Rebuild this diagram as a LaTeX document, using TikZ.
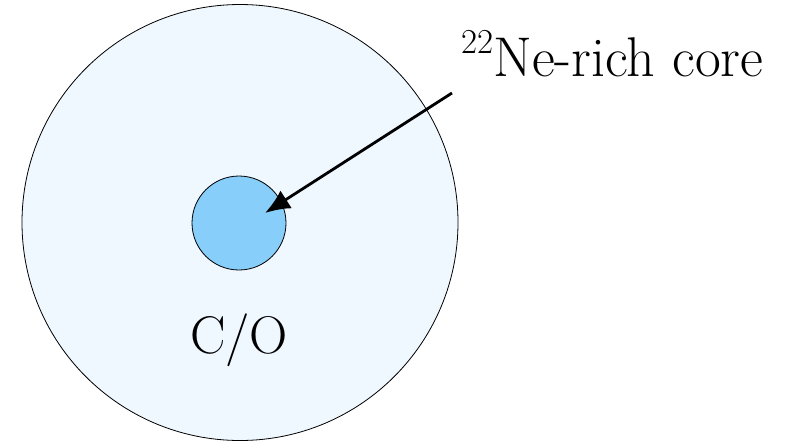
\documentclass[tikz,border=0pt]{standalone}
\usetikzlibrary{arrows.meta}
\definecolor{outerfill}{RGB}{239,247,255}
\definecolor{innerfill}{RGB}{135,206,250}
\tikzset{
  shell/.style={circle, draw=black, line width=0.8pt, inner sep=0pt},
  lbl/.style={inner sep=0pt, font=\fontsize{53}{60}\selectfont},
  biglbl/.style={inner sep=0pt, font=\fontsize{56}{62}\selectfont},
  pointer/.style={line width=2.8pt, -{Latex[length=25pt,width=21pt]}}
}
\newcommand{\isotop}[1]{\raisebox{23pt}{\fontsize{35}{40}\selectfont #1}}
\begin{document}
\begin{tikzpicture}[x=1pt,y=-1pt]
\useasboundingbox (0,0) rectangle (800,442);
\node[shell, fill=outerfill, minimum size=436pt] (outer) at (240,222.5) {};
\node[shell, fill=innerfill, minimum size=94pt] (inner) at (239,223) {};
\node[lbl, anchor=base] (co) at (239,353) {C/O};
\node[biglbl, anchor=base west] (ne) at (461,76) {\isotop{22}Ne-rich core};
\coordinate (start) at (452,93);
\coordinate (tip) at (265,213);
\draw[pointer] (start) -- (tip);
\end{tikzpicture}
\end{document}
